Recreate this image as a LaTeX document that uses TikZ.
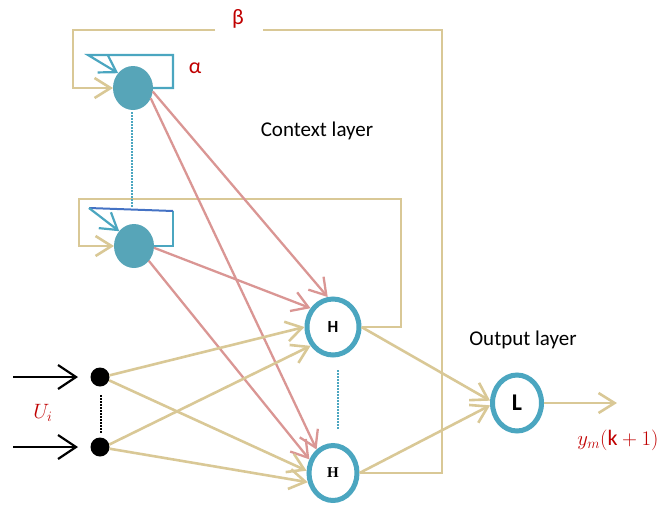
\documentclass[tikz,border=0pt]{standalone}
\usepackage{fontspec}
\setmainfont{Carlito}
\newfontfamily\serifbold{Liberation Serif}
\usetikzlibrary{arrows.meta,shapes.geometric}
\definecolor{teal1}{RGB}{75,166,192}
\definecolor{tealfill}{RGB}{87,165,184}
\definecolor{tan1}{RGB}{217,200,150}
\definecolor{pink1}{RGB}{218,150,148}
\definecolor{red1}{RGB}{192,0,0}
\definecolor{blue1}{RGB}{68,114,196}
\begin{document}
\begin{tikzpicture}[x=1pt,y=-1pt,
  arr/.style={-{Straight Barb[length=16pt,width=20pt]}},
  barr/.style={-{Straight Barb[length=18pt,width=24pt]}},
  tanline/.style={draw=tan1,line width=2.6pt},
  pinkline/.style={draw=pink1,line width=2.3pt},
  tealline/.style={draw=teal1,line width=2.2pt},
  ctx/.style={ellipse,fill=tealfill,inner sep=0pt,outer sep=0pt,minimum width=40pt,minimum height=44pt},
  hid/.style={ellipse,draw=teal1,line width=5pt,fill=white,inner sep=0pt},
  dot/.style={circle,fill=black,inner sep=0pt,minimum size=19pt},
  lab/.style={text=red1},
  dotline/.style={line width=2pt,dash pattern=on 1.5pt off 1.5pt}
]
\useasboundingbox (0,0) rectangle (666,504);

% nodes
\node[ctx] (C1) at (133,88) {};
\node[ctx] (C2) at (134,246) {};
\node[hid,minimum width=52pt,minimum height=56pt,font=\fontsize{17}{18}\selectfont\bfseries] (H1) at (333,327) {H};
\node[hid,minimum width=48pt,minimum height=55pt,font=\serifbold\fontsize{15}{16}\selectfont\bfseries] (H2) at (333,473) {H};
\node[hid,minimum width=49pt,minimum height=56pt,font=\fontsize{24}{26}\selectfont\bfseries] (L) at (517,403) {L};
\node[dot] (I1) at (100,377) {};
\node[dot] (I2) at (100,447) {};

% labels
\node[lab,font=\fontsize{22}{24}\selectfont] (alpha) at (195,68) {α};
\node[lab,font=\fontsize{22}{24}\selectfont] (beta) at (238,19) {β};
\node[lab,font=\fontsize{21}{22}\selectfont] (Ui) at (43,413) {$U_i$};
\node[lab,font=\fontsize{22}{24}\selectfont] (ym) at (618,440) {$y_m(\mathrm{k}+1)$};
\node[font=\fontsize{21}{22}\selectfont] (ctxl) at (317,131) {Context layer};
\node[font=\fontsize{21}{22}\selectfont] (outl) at (523,340) {Output layer};

% coordinates
\coordinate (c1r) at (173,88);
\coordinate (c1t) at (173,55);
\coordinate (c1l) at (88,55);
\coordinate (c2r) at (173,246);
\coordinate (c2t) at (173,211);
\coordinate (c2l) at (89,208);
\coordinate (bR) at (442,473);
\coordinate (bTR) at (442,30);
\coordinate (bG2) at (263,30);
\coordinate (bG1) at (215,30);
\coordinate (bTL) at (73,30);
\coordinate (bBL) at (73,88);
\coordinate (hR) at (401,327);
\coordinate (hTR) at (401,199);
\coordinate (hTL) at (79,199);
\coordinate (hBL) at (79,246);
\coordinate (in1) at (13,377);
\coordinate (in2) at (13,447);
\coordinate (out) at (617,403);
\coordinate (d1a) at (132,112);
\coordinate (d1b) at (132,208);
\coordinate (d2a) at (338,370);
\coordinate (d2b) at (338,430);
\coordinate (d3a) at (101,395);
\coordinate (d3b) at (101,433);

% context self loops
\draw[tealline,arr,line join=miter] (C1.east) -- (c1r) -- (c1t) -- (c1l) -- (C1.135);
\draw[tealline] (C2.east) -- (c2r) -- (c2t);
\draw[draw=blue1,line width=2pt] (c2t) -- (c2l);
\draw[tealline,arr] (c2l) -- (C2.135);

% feedback loops
\draw[tanline] (H2.east) -- (bR) -- (bTR) -- (bG2);
\draw[tanline,arr] (bG1) -- (bTL) -- (bBL) -- (C1.west);
\draw[tanline,arr] (H1.east) -- (hR) -- (hTR) -- (hTL) -- (hBL) -- (C2.west);

% context to hidden
\draw[pinkline,arr] (C1.-10) -- (H1.100);
\draw[pinkline,arr] (C1.-30) -- (H2.125);
\draw[pinkline,arr] (C2.-5) -- (H1.140);
\draw[pinkline,arr] (C2.-45) -- (H2.150);

% inputs to hidden
\draw[tanline,arr] (I1.10) -- (H1.180);
\draw[tanline,arr] (I1.-20) -- (H2.175);
\draw[tanline,arr] (I2.15) -- (H1.220);
\draw[tanline,arr] (I2.-10) -- (H2.200);

% hidden to output
\draw[tanline,arr] (H1.east) -- (L.175);
\draw[tanline,arr] (H2.east) -- (L.185);
\draw[tanline,arr] (L.east) -- (out);

% external inputs
\draw[line width=2.2pt,barr,shorten >=22pt] (in1) -- (I1.center);
\draw[line width=2.2pt,barr,shorten >=22pt] (in2) -- (I2.center);

% dotted ellipses
\draw[teal1,dotline] (d1a) -- (d1b);
\draw[teal1,dotline] (d2a) -- (d2b);
\draw[black,dotline] (d3a) -- (d3b);
\end{tikzpicture}
\end{document}
